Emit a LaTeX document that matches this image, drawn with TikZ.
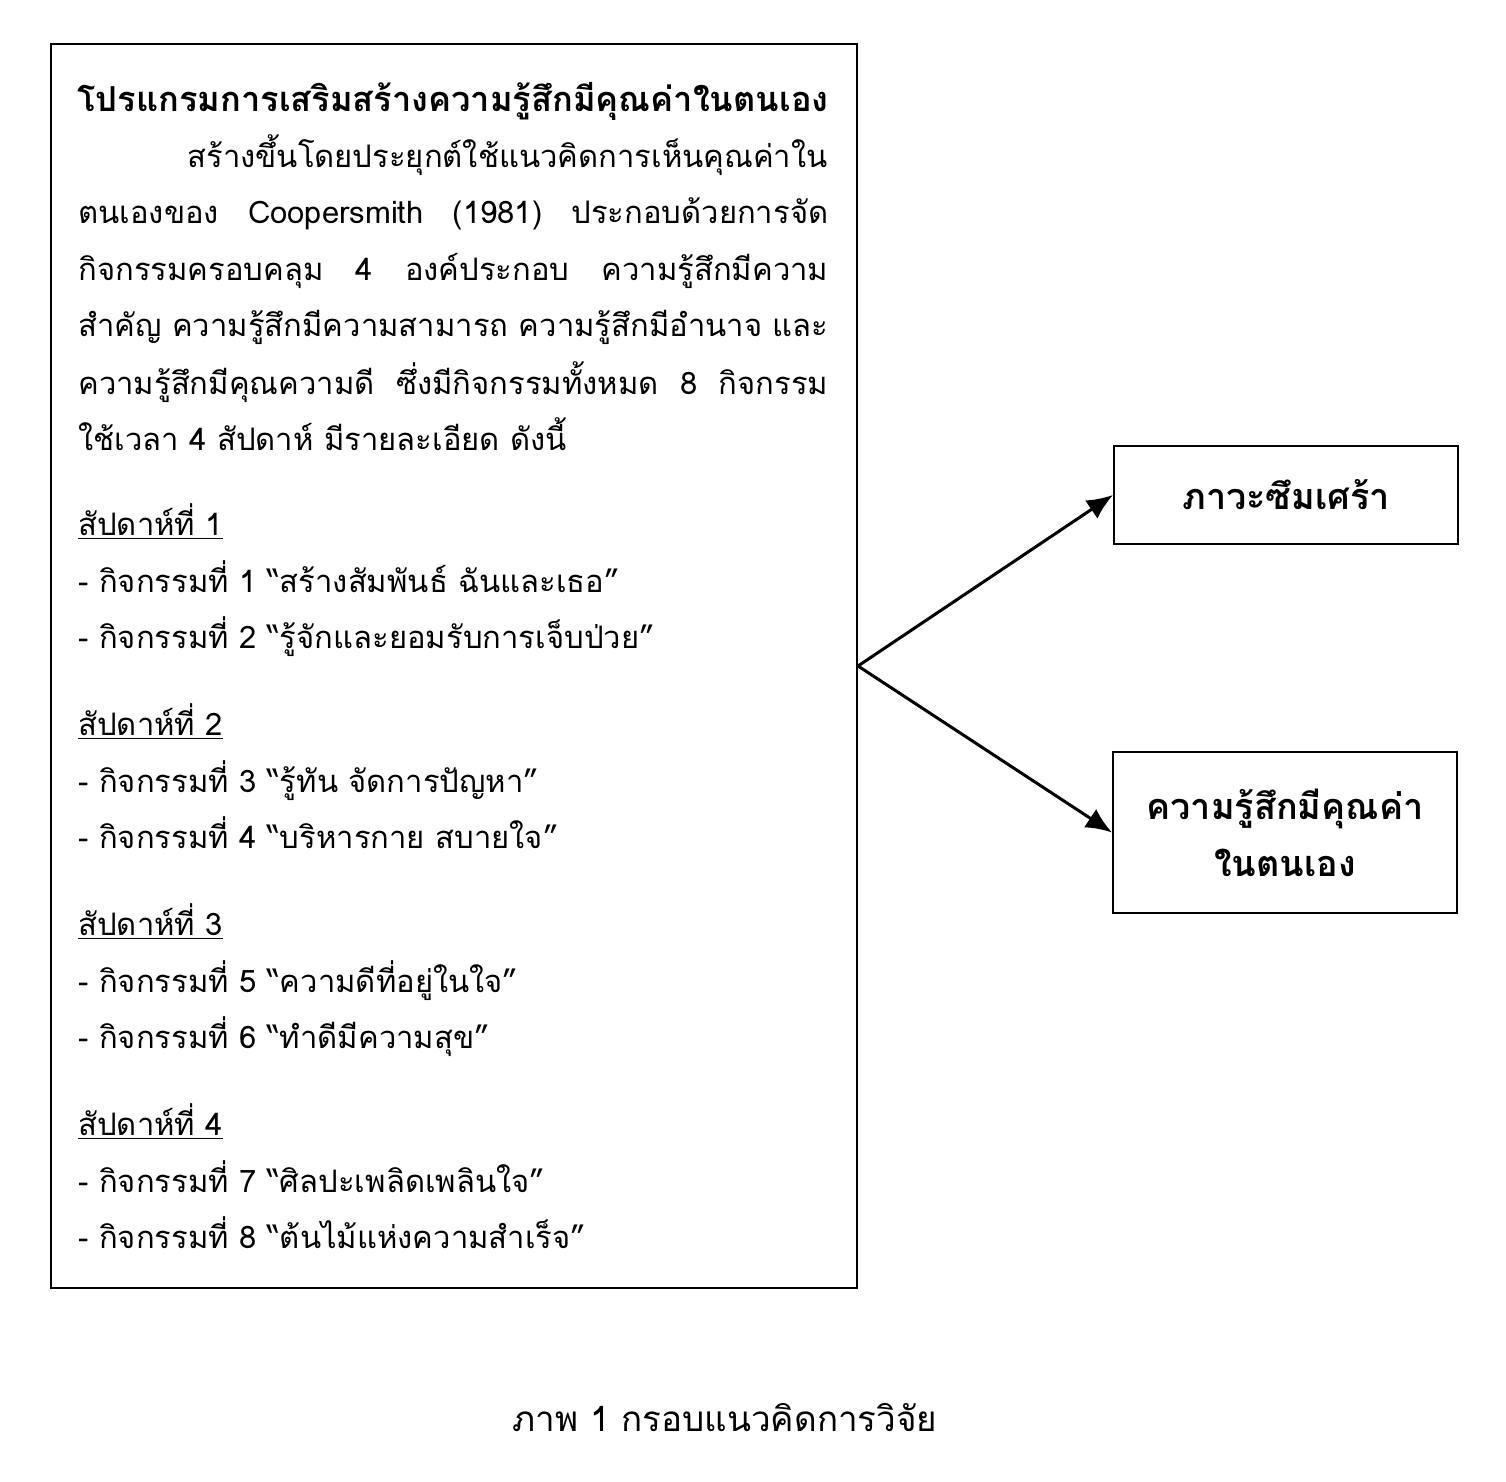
\documentclass[tikz,border=0pt]{standalone}
\usepackage{fontspec}
\setmainfont[Script=Thai]{Loma}
\usetikzlibrary{arrows.meta}
\newcommand\myfont{\fontsize{15.5}{28.5}\selectfont}
\newcommand\titlefont{\fontsize{17.2}{28.5}\selectfont\bfseries}
\newcommand\boxfont{\fontsize{18}{28.5}\selectfont\bfseries}
\newcommand\capfont{\fontsize{17.5}{28.5}\selectfont}
\newcommand\jline[1]{\makebox[375pt][s]{#1}}
\tikzset{
  box/.style={draw, line width=1pt, inner sep=0pt},
  ln/.style={anchor=base west, inner sep=0pt, font=\myfont},
  conn/.style={line width=1.5pt, -{Latex[length=13pt,width=11pt]}},
}
\begin{document}
\begin{tikzpicture}[x=0.5pt,y=-0.5pt]
\useasboundingbox (0,0) rectangle (1506,1482);
% boxes
\node[box, minimum width=403pt, minimum height=622pt] (prog) at (454,666) {};
\node[box, minimum width=172pt, minimum height=49pt, font=\boxfont, align=center] (dep) at (1286,495) {ภาวะซึมเศร้า};
\node[box, minimum width=172pt, minimum height=80.5pt, font=\boxfont, align=center] (est) at (1285,832.5) {ความรู้สึกมีคุณค่า\\ในตนเอง};
% connectors
\draw[conn] (prog.east) -- (dep.west);
\draw[conn] (prog.east) -- (est.west);
% text
\node[ln, anchor=base, font=\titlefont] (t0) at (453,112) {โปรแกรมการเสริมสร้างความรู้สึกมีคุณค่าในตนเอง};
\node[ln, anchor=base east] (t1) at (828,168) {สร้างขึ้นโดยประยุกต์ใช้แนวคิดการเห็นคุณค่าใน};
\node[ln] (t2) at (78,224) {\jline{ตนเองของ Coopersmith (1981) ประกอบด้วยการจัด}};
\node[ln] (t3) at (78,281) {\jline{กิจกรรมครอบคลุม 4 องค์ประกอบ ความรู้สึกมีความ}};
\node[ln] (t4) at (78,337) {\jline{สำคัญ ความรู้สึกมีความสามารถ ความรู้สึกมีอำนาจ และ}};
\node[ln] (t5) at (78,394) {\jline{ความรู้สึกมีคุณความดี ซึ่งมีกิจกรรมทั้งหมด 8 กิจกรรม}};
\node[ln] (t6) at (78,451) {ใช้เวลา 4 สัปดาห์ มีรายละเอียด ดังนี้};
% week 1
\node[ln] (w1) at (78,535) {\underline{สัปดาห์ที่ 1}};
\node[ln] (a1) at (78,592) {- กิจกรรมที่ 1 “สร้างสัมพันธ์ ฉันและเธอ”};
\node[ln] (a2) at (78,648) {- กิจกรรมที่ 2 “รู้จักและยอมรับการเจ็บป่วย”};
% week 2
\node[ln] (w2) at (78,735) {\underline{สัปดาห์ที่ 2}};
\node[ln] (a3) at (78,792) {- กิจกรรมที่ 3 “รู้ทัน จัดการปัญหา”};
\node[ln] (a4) at (78,848) {- กิจกรรมที่ 4 “บริหารกาย สบายใจ”};
% week 3
\node[ln] (w3) at (78,935) {\underline{สัปดาห์ที่ 3}};
\node[ln] (a5) at (78,992) {- กิจกรรมที่ 5 “ความดีที่อยู่ในใจ”};
\node[ln] (a6) at (78,1048) {- กิจกรรมที่ 6 “ทำดีมีความสุข”};
% week 4
\node[ln] (w4) at (78,1135) {\underline{สัปดาห์ที่ 4}};
\node[ln] (a7) at (78,1192) {- กิจกรรมที่ 7 “ศิลปะเพลิดเพลินใจ”};
\node[ln] (a8) at (78,1248) {- กิจกรรมที่ 8 “ต้นไม้แห่งความสำเร็จ”};
% caption
\node[ln, anchor=base, font=\capfont] (cap) at (725,1431) {ภาพ 1 กรอบแนวคิดการวิจัย};
\end{tikzpicture}
\end{document}
